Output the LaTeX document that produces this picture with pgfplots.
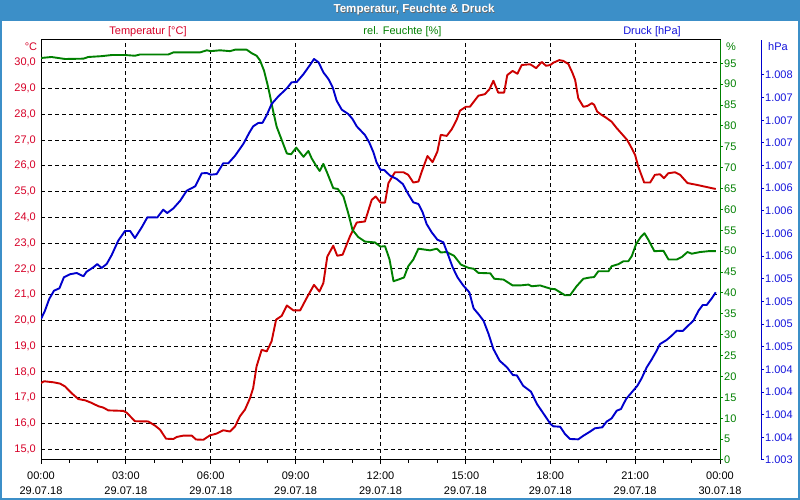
\documentclass[border=0pt]{standalone}
\usepackage{fontspec}
\setmainfont{Liberation Sans}
\usepackage{pgfplots}
\pgfplotsset{compat=1.18}
\definecolor{barblue}{RGB}{60,143,200}
\definecolor{tred}{RGB}{204,0,0}
\definecolor{ttred}{RGB}{215,0,40}
\definecolor{hgreen}{RGB}{0,128,0}
\definecolor{pblue}{RGB}{0,0,205}
\definecolor{tblue}{RGB}{20,20,220}
\begin{document}
\begin{tikzpicture}[font=\fontsize{11}{13}\selectfont]
\path[use as bounding box] (0,0) rectangle (800pt,500pt);
\fill[white] (0,0) rectangle (800pt,500pt);
\fill[barblue] (0,479pt) rectangle (800pt,500pt);
\draw[barblue, line width=2pt] (1pt,1pt) rectangle (799pt,499pt);
\node[black!60, font=\bfseries\fontsize{11.6}{13}\selectfont] at (414.7pt,489.3pt) {Temperatur, Feuchte \& Druck};
\node[white, font=\bfseries\fontsize{11.6}{13}\selectfont] at (414pt,490pt) {Temperatur, Feuchte \& Druck};
\node[ttred] at (148pt,468pt) {Temperatur [°C]};
\node[hgreen] at (402.5pt,468pt) {rel. Feuchte [\%]};
\node[tblue] at (652pt,468pt) {Druck [hPa]};
\node[ttred] at (31pt,453.5pt) {°C};
\node[hgreen] at (731pt,453.5pt) {\%};
\node[tblue] at (778pt,453.5pt) {hPa};

% Temperature axis
\begin{axis}[
  at={(41pt,40pt)}, anchor=south west,
  scale only axis, width=679pt, height=420pt,
  xmin=0, xmax=24, ymin=14.585, ymax=30.881,
  axis line style={black, line width=1pt},
  xtick={0,3,...,24},
  xticklabels={{00:00\\29.07.18},{03:00\\29.07.18},{06:00\\29.07.18},{09:00\\29.07.18},{12:00\\29.07.18},{15:00\\29.07.18},{18:00\\29.07.18},{21:00\\29.07.18},{00:00\\30.07.18}},
  xticklabel style={align=center, font=\fontsize{11}{15}\selectfont, text=black, yshift=-4pt},
  minor x tick num=2,
  xtick pos=left, ytick pos=left,
  tick align=outside,
  major tick length=4pt, minor tick length=3pt,
  ytick={15,16,...,30},
  yticklabels={{15,0},{16,0},{17,0},{18,0},{19,0},{20,0},{21,0},{22,0},{23,0},{24,0},{25,0},{26,0},{27,0},{28,0},{29,0},{30,0}},
  ytick style={draw=none},
  yticklabel style={text=ttred, inner sep=1pt},
  xtick style={black, line width=1pt},
  every minor tick/.append style={black, line width=1pt},
  xmajorgrids, ymajorgrids,
  major grid style={black, line width=1pt, dash pattern=on 4pt off 3pt},
]
\addplot[tred, line width=1.9pt, line join=round, no markers] coordinates {
(0,17.57) (0.11,17.64) (0.44,17.6) (0.67,17.55) (0.85,17.44) (1.08,17.18) (1.32,16.95) (1.56,16.9) (1.79,16.8) (2.03,16.67) (2.2,16.62) (2.38,16.51) (2.91,16.49) (3.03,16.42) (3.32,16.09) (3.79,16.08) (4.03,15.92) (4.21,15.76) (4.42,15.41) (4.68,15.40) (4.8,15.48) (5.03,15.53) (5.33,15.53) (5.48,15.38) (5.74,15.37) (5.97,15.54) (6.21,15.61) (6.44,15.74) (6.68,15.69) (6.86,15.89) (7.03,16.28) (7.21,16.54) (7.39,16.99) (7.5,17.38) (7.62,18.22) (7.8,18.86) (7.98,18.8) (8.15,19.19) (8.31,20.03) (8.51,20.18) (8.69,20.58) (8.92,20.39) (9.16,20.39) (9.39,20.87) (9.65,21.38) (9.84,21.12) (9.98,21.45) (10.12,22.48) (10.33,22.9) (10.47,22.51) (10.66,22.55) (10.92,23.26) (11.16,23.8) (11.45,23.84) (11.69,24.68) (11.83,24.81) (12.0,24.57) (12.16,24.57) (12.28,25.33) (12.51,25.75) (12.81,25.75) (12.98,25.65) (13.16,25.35) (13.34,25.39) (13.46,25.78) (13.66,26.38) (13.84,26.14) (14.01,26.55) (14.13,27.2) (14.34,27.16) (14.52,27.42) (14.69,27.78) (14.81,28.14) (15.02,28.29) (15.16,28.29) (15.46,28.72) (15.69,28.78) (15.85,28.97) (15.99,29.3) (16.16,28.84) (16.37,28.84) (16.48,29.52) (16.67,29.68) (16.84,29.57) (16.99,29.91) (17.29,29.94) (17.5,29.79) (17.7,30.03) (17.85,29.88) (18.0,29.91) (18.11,30.0) (18.32,30.1) (18.46,30.07) (18.64,29.95) (18.79,29.59) (18.88,29.33) (18.99,28.62) (19.17,28.29) (19.31,28.32) (19.47,28.43) (19.55,28.37) (19.66,28.1) (19.82,27.97) (19.97,27.87) (20.17,27.71) (20.35,27.46) (20.56,27.2) (20.72,27.0) (20.88,26.68) (21.0,26.42) (21.11,25.97) (21.32,25.35) (21.53,25.35) (21.7,25.65) (21.88,25.67) (22.02,25.52) (22.17,25.71) (22.41,25.75) (22.59,25.65) (22.85,25.33) (23.18,25.26) (23.47,25.19) (23.85,25.1)
};
\end{axis}

% Humidity axis
\begin{axis}[
  at={(41pt,40pt)}, anchor=south west,
  scale only axis, width=679pt, height=420pt,
  xmin=0, xmax=24, ymin=0, ymax=100.57,
  axis x line=none, axis y line*=right,
  y axis line style={hgreen, line width=1pt},
  ytick={0,5,...,95},
  yticklabels={0,5,10,15,20,25,30,35,40,45,50,55,60,65,70,75,80,85,90,95},
  tick align=outside, major tick length=3pt,
  ytick style={hgreen, line width=1pt},
  yticklabel style={text=hgreen, inner sep=1pt},
]
\addplot[hgreen, line width=1.9pt, line join=round, no markers] coordinates {
(0,96.26) (0.37,96.5) (0.85,96.02) (1.5,96.1) (1.67,96.5) (2.14,96.7) (2.5,96.97) (2.97,96.97) (3.32,96.8) (3.5,97.1) (4.5,97.1) (4.68,97.6) (5.62,97.6) (5.86,98.1) (6.0,97.9) (6.33,98.1) (6.68,97.9) (6.86,98.25) (7.27,98.25) (7.45,97.4) (7.62,96.8) (7.74,95.7) (7.88,93.3) (8.0,90.1) (8.09,87.35) (8.21,83.4) (8.33,79.8) (8.51,76.6) (8.69,73.4) (8.84,73.2) (9.02,74.8) (9.28,72.6) (9.45,74.0) (9.57,72.2) (9.73,70.4) (9.85,69.2) (9.98,70.9) (10.12,68.7) (10.33,65.1) (10.49,64.9) (10.69,63.1) (10.86,59.1) (11.01,55.1) (11.21,53.4) (11.45,52.3) (11.8,52.1) (12.0,51.1) (12.16,51.2) (12.32,48.0) (12.46,42.8) (12.63,43.2) (12.83,43.7) (12.98,46.4) (13.16,48.0) (13.34,50.6) (13.75,50.2) (13.99,50.6) (14.13,49.7) (14.34,49.8) (14.6,48.9) (14.84,46.8) (15.11,46.0) (15.29,45.8) (15.46,44.8) (15.88,44.7) (16.02,43.4) (16.35,43.2) (16.67,41.8) (16.93,41.8) (17.23,42.0) (17.35,41.6) (17.64,41.8) (18.02,41.0) (18.17,40.9) (18.52,39.45) (18.7,39.45) (18.93,41.6) (19.17,43.4) (19.4,43.7) (19.55,43.8) (19.7,45.2) (20.06,45.2) (20.17,46.4) (20.41,46.9) (20.59,47.6) (20.76,47.6) (20.88,48.8) (21.04,51.8) (21.2,53.4) (21.33,54.3) (21.47,52.7) (21.68,50.0) (22.0,50.1) (22.18,48.0) (22.47,48.0) (22.65,48.6) (22.85,49.8) (23.0,49.4) (23.3,49.8) (23.59,50.0) (23.85,50.0)
};
\end{axis}

% Pressure axis
\begin{axis}[
  at={(41pt,40pt)}, anchor=south west,
  scale only axis, width=720pt, height=420pt,
  xmin=0, xmax=25.449, ymin=1003.3, ymax=1007.936,
  axis x line=none, axis y line*=right,
  y axis line style={pblue, line width=1pt},
  ytick={1003.3,1003.55,1003.8,1004.05,1004.3,1004.55,1004.8,1005.05,1005.3,1005.55,1005.8,1006.05,1006.3,1006.55,1006.8,1007.05,1007.3,1007.55},
  yticklabels={1.003,1.004,1.004,1.004,1.004,1.005,1.005,1.005,1.005,1.006,1.006,1.006,1.006,1.007,1.007,1.007,1.007,1.008},
  tick align=outside, major tick length=3pt,
  ytick style={pblue, line width=1pt},
  yticklabel style={text=tblue, inner sep=1pt},
]
\addplot[pblue, line width=1.9pt, line join=round, no markers] coordinates {
(0,1004.856) (0.14,1004.948) (0.29,1005.077) (0.46,1005.169) (0.65,1005.195) (0.81,1005.317) (1.02,1005.35) (1.26,1005.364) (1.5,1005.328) (1.61,1005.378) (1.85,1005.427) (1.99,1005.463) (2.14,1005.419) (2.32,1005.463) (2.5,1005.563) (2.73,1005.721) (2.97,1005.828) (3.15,1005.828) (3.32,1005.75) (3.56,1005.868) (3.76,1005.979) (4.11,1005.977) (4.32,1006.063) (4.46,1006.026) (4.68,1006.078) (4.92,1006.162) (5.15,1006.272) (5.45,1006.321) (5.68,1006.464) (5.86,1006.468) (6.0,1006.449) (6.21,1006.456) (6.44,1006.575) (6.62,1006.575) (6.86,1006.659) (7.15,1006.788) (7.37,1006.917) (7.5,1006.983) (7.68,1007.02) (7.83,1007.022) (7.98,1007.108) (8.15,1007.229) (8.39,1007.314) (8.69,1007.403) (8.86,1007.469) (9.04,1007.472) (9.28,1007.56) (9.49,1007.652) (9.65,1007.726) (9.81,1007.69) (9.98,1007.579) (10.16,1007.505) (10.31,1007.414) (10.45,1007.266) (10.63,1007.167) (10.86,1007.119) (11.01,1007.064) (11.16,1006.983) (11.45,1006.887) (11.6,1006.807) (11.75,1006.696) (11.86,1006.586) (12.0,1006.503) (12.13,1006.501) (12.34,1006.438) (12.57,1006.402) (12.79,1006.346) (12.98,1006.236) (13.16,1006.144) (13.34,1006.126) (13.49,1006.034) (13.63,1005.905) (13.81,1005.813) (14.01,1005.732) (14.22,1005.703) (14.4,1005.555) (14.55,1005.427) (14.72,1005.317) (14.93,1005.224) (15.14,1005.151) (15.29,1004.974) (15.46,1004.911) (15.64,1004.838) (15.82,1004.691) (15.99,1004.525) (16.21,1004.396) (16.47,1004.323) (16.68,1004.238) (16.82,1004.234) (17.04,1004.12) (17.32,1004.054) (17.53,1003.918) (17.77,1003.808) (18.01,1003.697) (18.11,1003.672) (18.35,1003.667) (18.52,1003.587) (18.7,1003.532) (18.99,1003.528) (19.17,1003.568) (19.4,1003.612) (19.58,1003.65) (19.84,1003.661) (19.99,1003.723) (20.17,1003.76) (20.35,1003.844) (20.5,1003.863) (20.68,1003.973) (20.88,1004.047) (21.08,1004.12) (21.23,1004.202) (21.41,1004.323) (21.58,1004.407) (21.74,1004.495) (21.88,1004.58) (22.11,1004.624) (22.29,1004.672) (22.47,1004.727) (22.68,1004.724) (22.85,1004.776) (23.06,1004.838) (23.24,1004.948) (23.39,1005.011) (23.53,1005.011) (23.71,1005.085) (23.85,1005.151)
};
\end{axis}
\end{tikzpicture}
\end{document}
